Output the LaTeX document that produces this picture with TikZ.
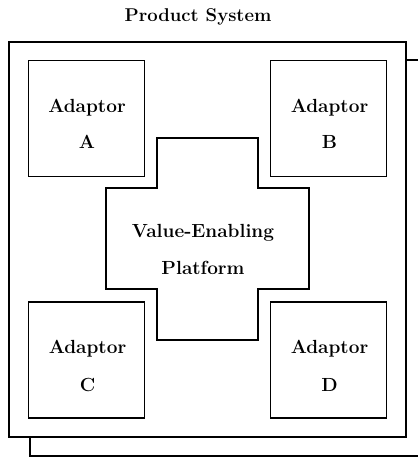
\documentclass[tikz,border=0pt]{standalone}
\usepackage{fontspec}
\begin{document}
\begin{tikzpicture}[x=1pt,y=-1pt,
  frame/.style={draw=black,line width=1.1pt,fill=none},
  adbox/.style={frame,minimum width=116pt,minimum height=116pt,inner sep=0pt},
  lbl/.style={font=\fontsize{19}{37}\selectfont\bfseries,align=center,inner sep=0pt,anchor=base}]
\useasboundingbox (0,0) rectangle (418,457);

% sheet lying behind the system frame
\coordinate (bk1) at (406,60);
\coordinate (bk2) at (418,60);
\coordinate (bk3) at (30,437);
\coordinate (bk4) at (30,456);
\coordinate (bk5) at (418,456);
\draw[line width=1.1pt] (bk1) -- (bk2);
\draw[line width=1.1pt] (bk3) -- (bk4) -- (bk5);

% system frame and title
\node[frame,minimum width=397pt,minimum height=395pt,inner sep=0pt] (sys) at (207.5,239.5) {};
\node[lbl,font=\fontsize{18.5}{37}\selectfont\bfseries] (title) at (198,22) {Product System};

% four adaptors (labels anchored on the baseline of their last line)
\node[adbox] (adA) at (86.5,118.5) {};
\node[adbox] (adB) at (328.5,118.5) {};
\node[adbox] (adC) at (86.5,360) {};
\node[adbox] (adD) at (328.5,360) {};
\node[lbl,font=\fontsize{19}{36}\selectfont\bfseries] (tA) at (87,149) {Adaptor\\A};
\node[lbl,font=\fontsize{19}{36}\selectfont\bfseries] (tB) at (329.5,149) {Adaptor\\B};
\node[lbl,font=\fontsize{19}{38}\selectfont\bfseries] (tC) at (87.5,391) {Adaptor\\C};
\node[lbl,font=\fontsize{19}{38}\selectfont\bfseries] (tD) at (329.5,391) {Adaptor\\D};

% cross-shaped platform in the middle
\draw[frame] (157,138) -- (258,138) -- (258,188) -- (309,188) -- (309,289)
  -- (258,289) -- (258,340) -- (157,340) -- (157,289) -- (106,289)
  -- (106,188) -- (157,188) -- cycle;
\node[lbl] (vep) at (203,274) {Value-Enabling\\Platform};
\end{tikzpicture}
\end{document}
